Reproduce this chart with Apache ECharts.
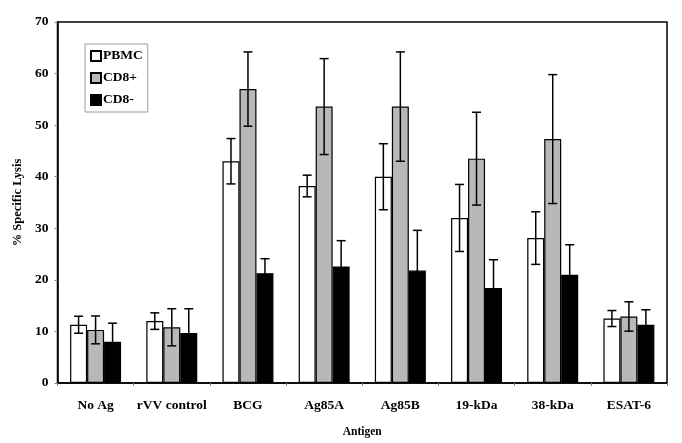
<!DOCTYPE html>
<html>
<head>
<meta charset="utf-8">
<script src="https://cdn.jsdelivr.net/npm/echarts@6/dist/echarts.min.js"></script>
<style>html,body{margin:0;padding:0;background:#fff}#c{width:682px;height:443px}</style>
</head>
<body>
<div id="c"></div>
<script>
var categories = ['No Ag', 'rVV control', 'BCG', 'Ag85A', 'Ag85B', '19-kDa', '38-kDa', 'ESAT-6'];
var seriesNames = ['PBMC', 'CD8+', 'CD8-'];
var pbmc = [11.3, 12.0, 43.0, 38.2, 40.0, 32.0, 28.1, 12.5];
var pbmcErr = [1.65, 1.6, 4.4, 2.1, 6.4, 6.5, 5.1, 1.55];
var cd8p = [10.3, 10.8, 57.0, 53.6, 53.6, 43.5, 47.3, 12.9];
var cd8pErr = [2.7, 3.6, 7.2, 9.3, 10.6, 9.0, 12.5, 2.85];
var cd8m = [8.0, 9.7, 21.3, 22.6, 21.8, 18.4, 21.0, 11.3];
var cd8mErr = [3.6, 4.7, 2.8, 5.0, 7.8, 5.5, 5.8, 2.9];
var yTicks = [0, 10, 20, 30, 40, 50, 60, 70];

var FONT = '"Liberation Serif", "Times New Roman", serif';
var BW = 0.223;
var fills = ['#ffffff', '#b8b8b8', '#000000'];
var vals = [pbmc, cd8p, cd8m];
var errs = [pbmcErr, cd8pErr, cd8mErr];

var series = [];
seriesNames.forEach(function (n, i) {
  series.push({
    name: n, type: 'bar', data: vals[i], barWidth: (BW * 100) + '%', barGap: '0%',
    itemStyle: { color: fills[i], borderColor: '#000', borderWidth: 1.2 },
    animation: false
  });
});
seriesNames.forEach(function (n, i) {
  var d = vals[i].map(function (v, k) { return [k, v, errs[i][k]]; });
  series.push({
    type: 'custom', data: d, z: 10, animation: false, silent: true,
    renderItem: function (params, api) {
      var k = api.value(0), v = api.value(1), e = api.value(2);
      var w = api.size([1, 0])[0] * BW;
      var c = api.coord([k, v]);
      var x = c[0] + (i - 1) * w;
      var top = api.coord([k, v + e])[1];
      var bot = api.coord([k, v - e])[1];
      var cap = 4.5;
      var st = { stroke: '#000', lineWidth: 1.5 };
      return { type: 'group', children: [
        { type: 'line', shape: { x1: x, y1: top, x2: x, y2: bot }, style: st },
        { type: 'line', shape: { x1: x - cap, y1: top, x2: x + cap, y2: top }, style: st },
        { type: 'line', shape: { x1: x - cap, y1: bot, x2: x + cap, y2: bot }, style: st }
      ]};
    }
  });
});

var chart = echarts.init(document.getElementById('c'));
chart.setOption({
  backgroundColor: '#fff',
  animation: false,
  grid: { left: 57.5, right: 15, top: 22, bottom: 60, show: true, borderColor: '#000', borderWidth: 1.5, containLabel: false },
  legend: {
    data: seriesNames, orient: 'vertical', left: 85, top: 44,
    itemWidth: 10, itemHeight: 10, itemGap: 8,
    borderColor: '#999', borderWidth: 1, padding: [5, 5, 5, 5],
    textStyle: { fontFamily: FONT, fontWeight: 'bold', fontSize: 13.5, color: '#000', padding: [0, 0, 0, -3] },
    icon: 'rect'
  },
  xAxis: {
    type: 'category', data: categories,
    name: 'Antigen', nameLocation: 'middle', nameGap: 43,
    nameTextStyle: { fontFamily: FONT, fontWeight: 'bold', fontSize: 11.5, color: '#000' },
    axisLine: { lineStyle: { color: '#000', width: 1.5 } },
    axisTick: { show: true, length: 3, lineStyle: { color: '#888' } },
    axisLabel: { fontFamily: FONT, fontWeight: 'bold', fontSize: 13.5, color: '#000', margin: 16, interval: 0 }
  },
  yAxis: {
    type: 'value', min: 0, max: 70, interval: 10,
    name: '% Specific Lysis', nameLocation: 'middle', nameGap: 31,
    nameTextStyle: { fontFamily: FONT, fontWeight: 'bold', fontSize: 12.5, color: '#000' },
    axisLine: { show: true, lineStyle: { color: '#000', width: 1.5 } },
    axisTick: { show: true, length: 3, lineStyle: { color: '#888' } },
    splitLine: { show: false },
    axisLabel: { fontFamily: FONT, fontWeight: 'bold', fontSize: 13.5, color: '#000', margin: 9,
      formatter: function (v) { return yTicks.indexOf(v) >= 0 ? String(v) : ''; } }
  },
  series: series
});
</script>
</body>
</html>
